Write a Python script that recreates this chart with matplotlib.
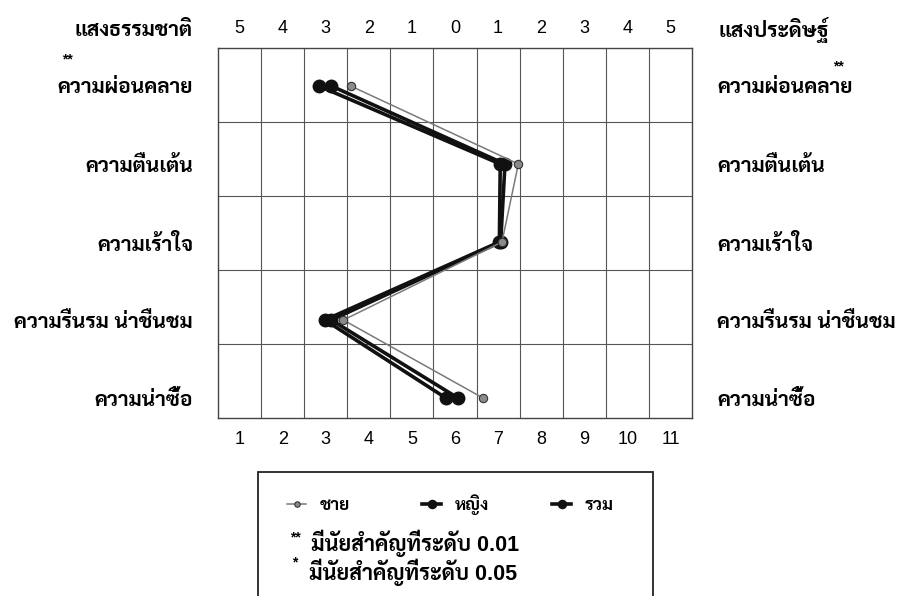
import numpy as np
import matplotlib
matplotlib.use("Agg")
import matplotlib.pyplot as plt
from matplotlib.patches import Rectangle

# ฟอนต์: ตัวเลขแบบ Arial, อักษรไทยใช้ Sarabun
plt.rcParams["font.family"] = ["Liberation Sans", "Sarabun", "Noto Sans Thai Looped", "DejaVu Sans"]

# ข้อมูลภาพลักษณ์ของแสง (คะแนน 1-11)
categories = ["ความผ่อนคลาย", "ความตื่นเต้น", "ความเร้าใจ", "ความรื่นรม น่าชื่นชม", "ความน่าซื้อ"]
male = [3.58, 7.47, 7.09, 3.41, 6.65]
female = [2.84, 7.05, 7.03, 2.98, 5.79]
total = [3.13, 7.16, 7.06, 3.13, 6.07]
scale_ticks = list(range(1, 12))
top_labels = ["5", "4", "3", "2", "1", "0", "1", "2", "3", "4", "5"]
left_title = "แสงธรรมชาติ"
right_title = "แสงประดิษฐ์"
series_names = ["ชาย", "หญิง", "รวม"]
notes = ["มีนัยสำคัญที่ระดับ 0.01", "มีนัยสำคัญที่ระดับ 0.05"]

W, H = 907, 596
fig = plt.figure(figsize=(W / 100, H / 100), dpi=100)
ax = fig.add_axes([218 / W, 1 - 418 / H, 474 / W, 370 / H])

rows = np.arange(1, len(categories) + 1)

# เส้นกราฟแต่ละกลุ่ม
l_male, = ax.plot(male, rows, color="#7a7a7a", lw=1.1, marker="o", ms=6,
                  mfc="#8a8a8a", mec="#333333", mew=0.8, zorder=4)
l_female, = ax.plot(female, rows, color="#111111", lw=2.6, marker="o", ms=9,
                    mfc="#111111", mec="#111111", zorder=3)
l_total, = ax.plot(total, rows, color="#111111", lw=2.6, marker="o", ms=9,
                   mfc="#111111", mec="#111111", zorder=3)

ax.set_xlim(0.5, 11.5)
ax.set_ylim(5.256, 0.513)

# ตาราง
ax.set_xticks(np.arange(1.5, 11.5, 1), minor=True)
ax.grid(which="minor", axis="x", color="#555555", lw=0.8)
for f in [0.2, 0.4, 0.6, 0.8]:
    ax.plot([0, 1], [f, f], transform=ax.transAxes, color="#555555", lw=0.8, zorder=1)
for s in ax.spines.values():
    s.set_color("#444444")
    s.set_linewidth(1.0)

# แกนล่างและแกนบน
ax.set_xticks(scale_ticks)
ax.tick_params(axis="x", which="both", length=0, pad=9, labelsize=13)
secax = ax.secondary_xaxis("top")
secax.set_xticks(scale_ticks, labels=top_labels)
secax.tick_params(length=0, pad=8, labelsize=13)
secax.spines["top"].set_visible(False)

# ป้ายหมวดทั้งสองข้าง
ax.set_yticks(rows, labels=categories)
ax.tick_params(axis="y", which="both", length=0, pad=18, labelsize=15,
               labelright=True)
for t in ax.yaxis.get_major_ticks():
    t.label1.set_fontweight("bold")
    t.label2.set_fontweight("bold")

fig.text(193 / W, 1 - 30 / H, left_title, ha="right", va="center", fontsize=15, fontweight="bold")
fig.text(718 / W, 1 - 30 / H, right_title, ha="left", va="center", fontsize=15, fontweight="bold")
fig.text(62 / W, 1 - 59 / H, "**", ha="left", va="center", fontsize=10, fontweight="bold")
fig.text(833 / W, 1 - 66 / H, "**", ha="left", va="center", fontsize=10, fontweight="bold")

# กล่องคำอธิบาย
fig.add_artist(Rectangle((258 / W, -0.05), (653 - 258) / W, 0.05 + 1 - 472 / H,
                         transform=fig.transFigure, fill=False, ec="#222222", lw=1.3))
for h, name, x0 in zip([l_male, l_female, l_total], series_names, [287, 422, 552]):
    leg = fig.legend([h], [name], loc="center left", bbox_to_anchor=(x0 / W, 1 - 505 / H),
                     frameon=False, borderpad=0, borderaxespad=0, handlelength=1.1,
                     handletextpad=0.8, markerscale=0.65, fontsize=12.5)
    for t in leg.get_texts():
        t.set_fontweight("bold")

fig.text(290 / W, 1 - 537 / H, "**", fontsize=10, fontweight="bold", va="center")
fig.text(311 / W, 1 - 543 / H, notes[0], fontsize=15.5, fontweight="bold", va="center")
fig.text(292 / W, 1 - 562 / H, "*", fontsize=10, fontweight="bold", va="center")
fig.text(309 / W, 1 - 572 / H, notes[1], fontsize=15.5, fontweight="bold", va="center")

fig.savefig("out.png", dpi=100)
